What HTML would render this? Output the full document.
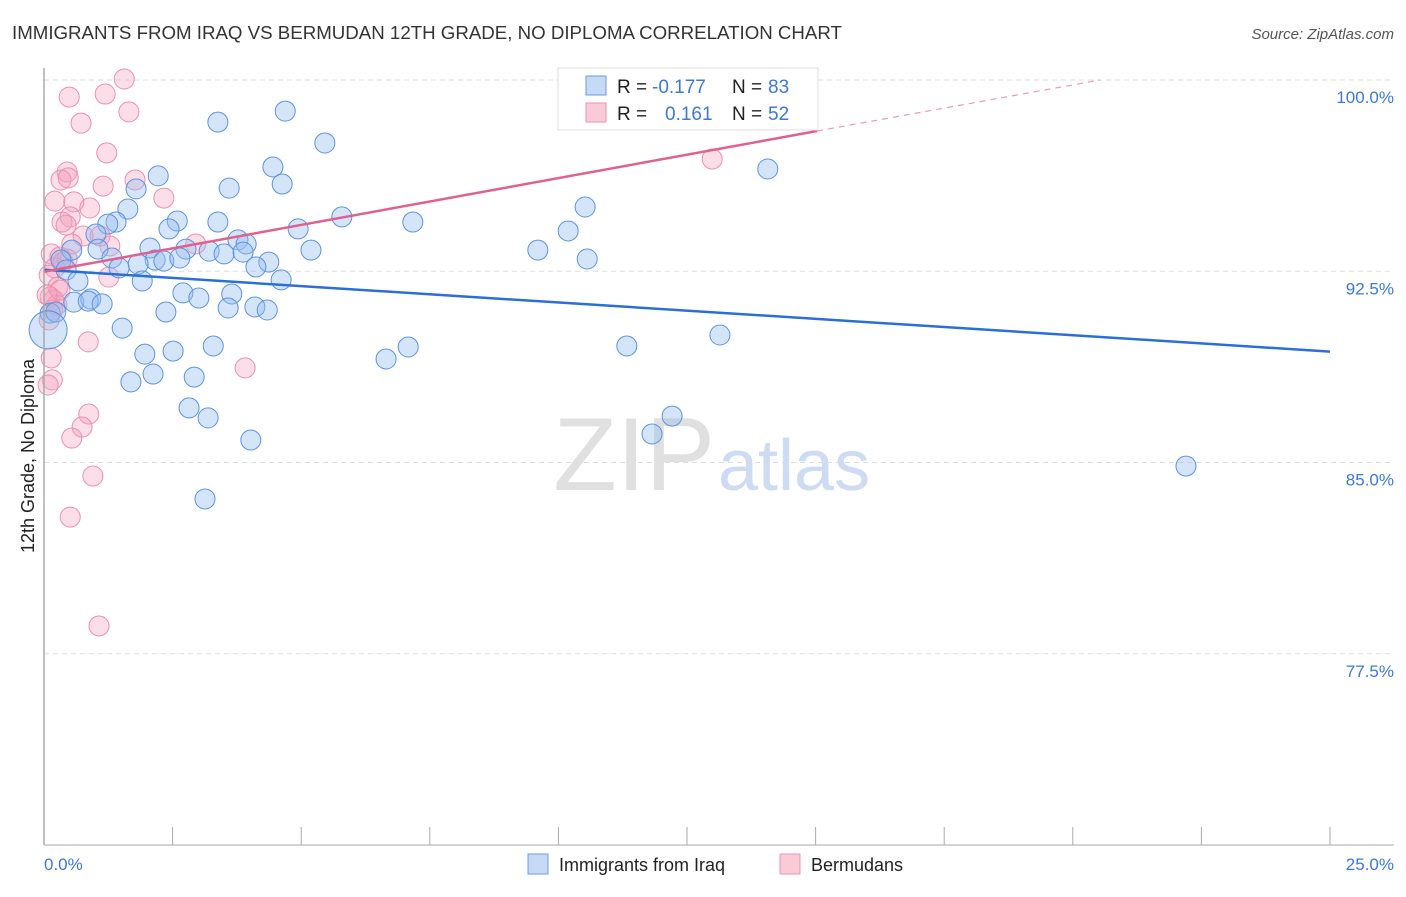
<!DOCTYPE html>
<html><head><meta charset="utf-8"><style>
body{margin:0;background:#fff;font-family:"Liberation Sans",sans-serif;}
svg text{font-family:"Liberation Sans",sans-serif;}
</style></head><body>
<svg id="chart" width="1406" height="892">
<text x="12" y="39" font-size="18.7" fill="#333">IMMIGRANTS FROM IRAQ VS BERMUDAN 12TH GRADE, NO DIPLOMA CORRELATION CHART</text>
<text x="1394" y="39" font-size="15" fill="#555" font-style="italic" text-anchor="end">Source: ZipAtlas.com</text>
<g id="grid"></g>
<text x="715" y="490" font-size="104" fill="#e0e0e0" text-anchor="end" font-family="Liberation Serif">ZIP</text>
<text x="718" y="490" font-size="72" fill="#cddcf2">atlas</text>
<g id="pts"></g>
<g id="lines"></g>
<line x1="44" y1="68" x2="44" y2="845" stroke="#aaa" stroke-width="1.5"/>
<line x1="44" y1="845" x2="1394" y2="845" stroke="#aaa" stroke-width="1"/>
<g id="xt"></g>
<text x="44" y="870" font-size="17" fill="#3b78d8">0.0%</text>
<text x="1394" y="870" font-size="17" fill="#3b78d8" text-anchor="end">25.0%</text>
<text transform="translate(34,456) rotate(-90)" font-size="18" fill="#222" text-anchor="middle">12th Grade, No Diploma</text>
<g>
<rect x="558" y="68" width="260" height="62" fill="#fff" stroke="#ddd"/>
<rect x="586" y="76" width="20" height="19" fill="#c6d9f5" stroke="#6a9be0"/>
<rect x="586" y="103" width="20" height="19" fill="#f9cbd9" stroke="#ec92b0"/>
<text x="617" y="93" font-size="19" fill="#222">R =</text>
<text x="652" y="93" font-size="19" fill="#3b78d8">-0.177</text>
<text x="732" y="93" font-size="19" fill="#222">N =</text>
<text x="768" y="93" font-size="19" fill="#3b78d8">83</text>
<text x="617" y="120" font-size="19" fill="#222">R =</text>
<text x="665" y="120" font-size="19" fill="#3b78d8">0.161</text>
<text x="732" y="120" font-size="19" fill="#222">N =</text>
<text x="768" y="120" font-size="19" fill="#3b78d8">52</text>
</g>
<g><rect x="528" y="854" width="20" height="20" fill="#c6d9f5" stroke="#6a9be0"/><text x="559" y="871" font-size="18" fill="#222">Immigrants from Iraq</text></g>
<g><rect x="780" y="854" width="20" height="20" fill="#f9cbd9" stroke="#ec92b0"/><text x="811" y="871" font-size="18" fill="#222">Bermudans</text></g>
</svg>
<script>
const yTicks=[100,92.5,85,77.5];
const yTickLabels=["100.0%","92.5%","85.0%","77.5%"];
const iraqX=[4.69,3.38,5.46,4.45,14.07,2.22,4.63,1.79,3.60,1.63,10.52,5.79,2.59,3.38,7.17,1.40,1.24,4.94,2.43,10.19,1.01,3.77,2.06,3.93,2.76,0.54,9.60,1.05,5.19,3.21,3.50,3.87,2.16,2.33,2.64,1.32,0.33,10.56,4.37,4.12,1.83,1.46,0.43,1.91,0.66,4.61,2.70,3.01,3.65,0.58,0.91,0.86,1.13,3.58,4.10,4.34,2.37,0.12,0.23,1.52,13.14,3.29,11.33,7.08,1.96,2.51,6.65,2.12,1.69,2.92,2.82,3.19,12.21,11.82,4.02,22.20,3.13,0.08];
const iraqY=[98.78,98.35,97.53,96.59,96.51,96.24,95.92,95.73,95.76,94.94,95.02,94.63,94.47,94.43,94.43,94.43,94.35,94.16,94.16,94.08,93.96,93.73,93.41,93.57,93.37,93.33,93.33,93.37,93.33,93.29,93.18,93.25,92.94,92.90,93.02,93.02,92.94,92.98,92.86,92.67,92.78,92.63,92.55,92.12,92.12,92.16,91.65,91.45,91.61,91.29,91.41,91.33,91.22,91.06,91.10,90.98,90.90,90.86,90.90,90.27,90.00,89.57,89.57,89.53,89.25,89.37,89.06,88.47,88.16,88.35,87.14,86.75,86.82,86.12,85.88,84.86,83.57,90.2];
const bermX=[1.56,0.49,1.19,0.72,1.65,1.22,0.45,0.33,0.47,1.15,1.77,0.89,2.33,0.21,0.58,0.51,0.35,0.43,12.99,1.09,0.76,0.54,1.28,2.95,0.14,0.31,0.37,0.45,0.21,1.26,0.10,0.27,0.12,0.19,0.25,0.17,0.10,0.86,3.91,0.14,0.16,0.08,0.87,0.74,0.54,0.95,0.51,1.07,0.31,0.06];
const bermY=[100.04,99.33,99.45,98.31,98.75,97.14,96.39,96.08,96.16,95.84,96.08,94.98,95.37,95.25,95.22,94.63,94.43,94.31,96.90,93.88,93.88,93.57,93.49,93.57,93.18,93.06,92.86,92.98,92.63,92.27,92.35,91.88,91.49,91.37,91.18,90.98,90.59,89.73,88.71,89.10,88.24,88.04,86.90,86.39,85.96,84.47,82.86,78.59,91.76,91.57];
const xMin=0,xMax=25,yMin=70,yMax=100;
const X=v=>44+(v-xMin)/(xMax-xMin)*1286;
const Y=v=>80+(yMax-v)/(yMax-yMin)*765;
const ns="http://www.w3.org/2000/svg";
function mk(t,a,p){const e=document.createElementNS(ns,t);for(const k in a)e.setAttribute(k,a[k]);p.appendChild(e);return e;}
const grid=document.getElementById('grid');
yTicks.forEach((t,i)=>{
 const l=mk('line',{x1:44,x2:1394,y1:Y(t),y2:Y(t),stroke:'#ddd','stroke-dasharray':'5,4'},grid);
 
 
 const tx=mk('text',{x:1394,y:Y(t)+23,'font-size':17,fill:'#3b78d8','text-anchor':'end'},grid);
 tx.textContent=yTickLabels[i];
 
 
});
const xt=document.getElementById('xt');
for(let i=1;i<=10;i++){const l=mk('line',{x1:44+i*128.6,x2:44+i*128.6,y1:827,y2:845,stroke:'#aaa'},xt);
 
 }
const pts=document.getElementById('pts');
bermX.forEach((x,i)=>{const c=mk('circle',{cx:X(x),cy:Y(bermY[i]),r:10,fill:'rgba(244,160,188,0.35)',stroke:'#ec8fae','stroke-width':1},pts);
 
 });
iraqX.forEach((x,i)=>{const big=i===iraqX.length-1;const c=mk('circle',{cx:X(x),cy:Y(iraqY[i]),r:big?19:10,fill:'rgba(150,190,240,0.4)',stroke:'#5b93e0','stroke-width':1},pts);
 
 });
const lines=document.getElementById('lines');
const b=mk('line',{x1:X(0),y1:Y(92.56),x2:X(25),y2:Y(89.35),stroke:'#2a6fd6','stroke-width':2.5},lines);


const p=mk('line',{x1:X(0),y1:Y(92.48),x2:X(15.03),y2:Y(98.0),stroke:'#e0608e','stroke-width':2.5},lines);


const pd=mk('line',{x1:X(15.03),y1:Y(98.0),x2:X(20.53),y2:Y(100),stroke:'#e99ab6','stroke-width':1.2,'stroke-dasharray':'6,5'},lines);


</script>
</body></html>
